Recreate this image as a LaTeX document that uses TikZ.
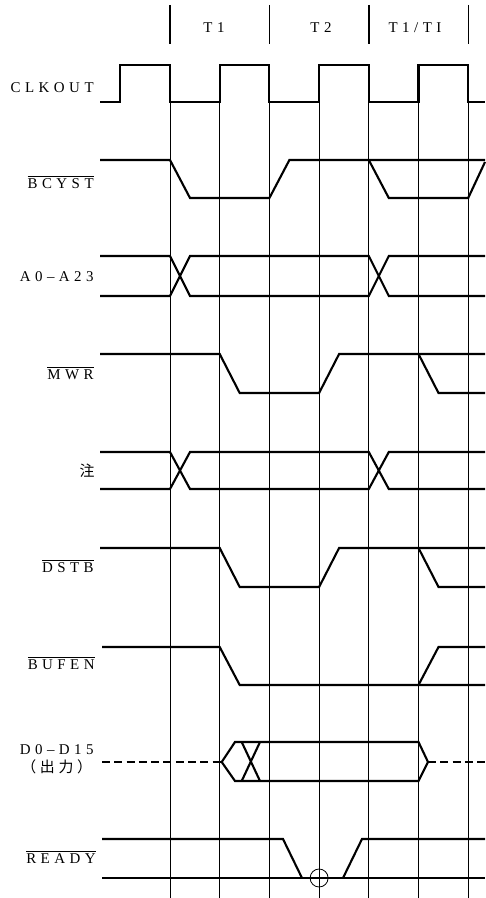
\documentclass[tikz,border=0pt]{standalone}
\usepackage{fontspec}
\setmainfont{Liberation Serif}
\newfontfamily\sigfont[LetterSpace=30]{Liberation Serif}
\newfontfamily\cjk[LetterSpace=25]{Noto Sans CJK JP}
\newcommand{\ovl}[1]{$\overline{\mbox{#1}}$}

\begin{document}
\begin{tikzpicture}[x=0.02cm,y=-0.02cm,
  sig/.style={line width=1.2pt},
  gridline/.style={line width=0.45pt},
  hdr/.style={line width=0.8pt},
  lbl/.style={anchor=east,inner sep=0pt,align=center,font=\fontsize{8.5}{10}\sigfont},
  period/.style={inner sep=0pt,font=\fontsize{8.5}{10}\sigfont}]
\useasboundingbox (0,0) rectangle (485,898);

\foreach \x in {170,269.4,368.8,468.2}
  \draw[hdr] (\x,5) -- (\x,44);
\foreach \x in {170,219.7,269.4,319.1,368.8,418.5,468.2}
  \draw[gridline] (\x,102) -- (\x,898);

\node[period] (t1) at (214,28) {T1};
\node[period] (t2) at (321,28) {T2};
\node[period] (t3) at (415,28) {T1/TI};

\node[lbl] (clkout) at (94,88) {CLKOUT};
\node[lbl] (bcyst) at (94,182) {\ovl{BCYST}};
\node[lbl] (addr) at (94,277) {A0–A23};
\node[lbl] (mwr) at (94,373) {\ovl{MWR}};
\node[lbl] (note) at (95,471) {\cjk 注};
\node[lbl] (dstb) at (94,566) {\ovl{DSTB}};
\node[lbl] (bufen) at (95,663) {\ovl{BUFEN}};
\node[lbl] (data) at (94,759) {D0–D15\\{\cjk （出力）}};
\node[lbl] (ready) at (96,857) {\ovl{READY}};

\draw[sig] (100,102) -- (120.3,102) -- (120.3,65) -- (170,65) -- (170,102) -- (219.7,102)
  -- (219.7,65) -- (269.4,65) -- (269.4,102) -- (319.1,102) -- (319.1,65) -- (368.8,65)
  -- (368.8,102) -- (418.5,102) -- (418.5,65) -- (468.2,65) -- (468.2,102) -- (485,102);

\draw[sig] (100,160) -- (170,160) -- (190,198) -- (269.4,198) -- (289.4,160) -- (485,160);
\draw[sig] (368.8,160) -- (388.8,198) -- (468.2,198) -- (485,162);

\draw[sig] (100,256) -- (170,256) -- (190,296) -- (368.8,296) -- (388.8,256) -- (485,256);
\draw[sig] (100,296) -- (170,296) -- (190,256) -- (368.8,256) -- (388.8,296) -- (485,296);

\draw[sig] (100,354) -- (219.7,354) -- (239.7,393) -- (319.1,393) -- (339.1,354) -- (485,354);
\draw[sig] (418.5,354) -- (438.5,393) -- (485,393);

\draw[sig] (100,452) -- (170,452) -- (190,489) -- (368.8,489) -- (388.8,452) -- (485,452);
\draw[sig] (100,489) -- (170,489) -- (190,452) -- (368.8,452) -- (388.8,489) -- (485,489);

\draw[sig] (100,548) -- (219.7,548) -- (239.7,587) -- (319.1,587) -- (339.1,548) -- (485,548);
\draw[sig] (418.5,548) -- (438.5,587) -- (485,587);

\draw[sig] (102,647) -- (219.7,647) -- (239.7,685) -- (485,685);
\draw[sig] (418.5,685) -- (438.5,647) -- (485,647);

\draw[sig,dash pattern=on 4.5pt off 2.5pt] (102,762) -- (221.7,762);
\draw[sig] (221.7,762) -- (235,742) -- (418.5,742) -- (428,762) -- (418.5,781) -- (235,781) -- cycle;
\draw[sig] (241.7,742) -- (260,781) (241.7,781) -- (260,742);
\draw[sig,dash pattern=on 4.5pt off 2.5pt] (428,762) -- (485,762);

\draw[sig] (102,839) -- (283,839) -- (302,878);
\draw[sig] (343,878) -- (362,839) -- (485,839);
\draw[sig] (102,878) -- (485,878);
\draw[gridline] (319.1,878) circle[radius=0.18cm];
\end{tikzpicture}
\end{document}
